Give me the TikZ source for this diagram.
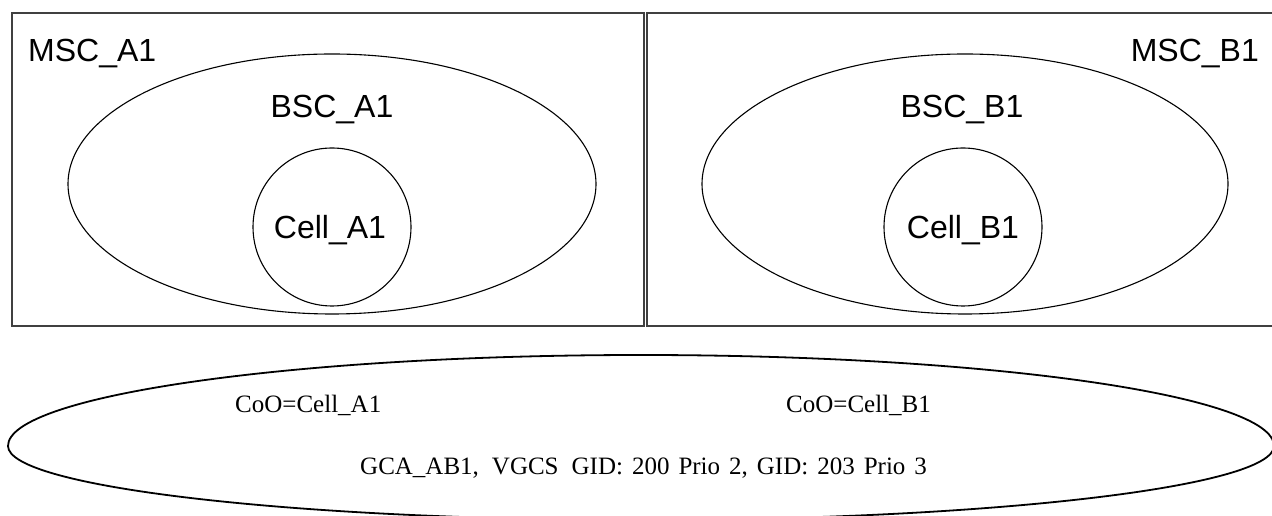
\documentclass[tikz,border=0pt]{standalone}
\usepackage{fontspec}
\setmainfont{Liberation Serif}
\newfontfamily\arialfont{Liberation Sans}
\begin{document}
\begin{tikzpicture}[x=1pt,y=1pt,
  boxline/.style={draw=black!75,line width=1.6pt},
  thinline/.style={draw=black,line width=1.1pt},
  sanslabel/.style={inner sep=0pt,font=\arialfont\fontsize{32}{38}\selectfont},
  seriflabel/.style={inner sep=0pt,font=\fontsize{25}{30}\selectfont}]
\useasboundingbox (0,0) rectangle (1272,516);
\clip (0,0) rectangle (1272,516);
% MSC boxes
\draw[boxline] (12,190) rectangle (644,503);
\draw[boxline] (647,190) rectangle (1290,503);
% BSC ellipses
\draw[thinline] (332,332) ellipse [x radius=264pt, y radius=130pt];
\draw[thinline] (965,332) ellipse [x radius=263pt, y radius=130pt];
% Cells
\draw[thinline] (332,289) circle [radius=79pt];
\draw[thinline] (963,289) circle [radius=79pt];
% GCA ellipse
\draw[black,line width=1.8pt] (8,70) arc[start angle=180,end angle=0,x radius=633pt,y radius=91pt]
  arc[start angle=0,end angle=-180,x radius=633pt,y radius=74pt] -- cycle;
% labels
\node[sanslabel,anchor=base west] (mscA) at (28,454) {MSC\_A1};
\node[sanslabel,anchor=base east] (mscB) at (1259,454) {MSC\_B1};
\node[sanslabel,anchor=base] (bscA) at (332,398) {BSC\_A1};
\node[sanslabel,anchor=base] (bscB) at (962,398) {BSC\_B1};
\node[sanslabel,anchor=base] (cellA) at (330,277) {Cell\_A1};
\node[sanslabel,anchor=base] (cellB) at (963,277) {Cell\_B1};
\node[seriflabel,anchor=base west] (cooA) at (235,103) {CoO=Cell\_A1};
\node[seriflabel,anchor=base west] (cooB) at (786,103) {CoO=Cell\_B1};
\node[seriflabel,anchor=base west] (gca) at (360,41) {GCA\_AB1,\hspace{13pt}VGCS\hspace{13pt}GID:\hspace{9pt}200\hspace{9pt}Prio\hspace{9pt}2,\hspace{9pt}GID:\hspace{9pt}203\hspace{9pt}Prio\hspace{9pt}3};
\end{tikzpicture}
\end{document}
